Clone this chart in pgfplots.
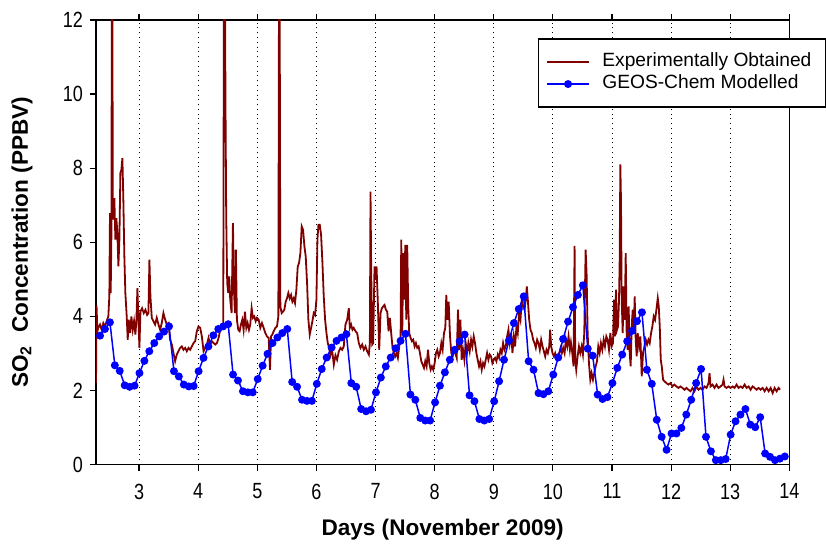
\documentclass[border=0pt]{standalone}
\usepackage{fontspec}
\setmainfont{Liberation Sans}
\newfontfamily\narrowfont[FakeStretch=0.82]{Liberation Sans}
\usepackage{pgfplots}
\usepackage{pgfplotstable}
\pgfplotsset{compat=1.18}
\definecolor{expred}{RGB}{128,0,0}
\definecolor{modblue}{RGB}{0,0,255}

\pgfplotstableread{
day val
2.272 2.20
2.280 4.30
2.295 3.60
2.310 3.69
2.339 3.78
2.367 3.64
2.395 3.82
2.424 3.73
2.452 3.87
2.480 4.00
2.497 4.54
2.508 6.79
2.520 4.63
2.532 6.20
2.540 13.0
2.548 13.0
2.556 6.90
2.565 6.61
2.582 7.19
2.599 6.07
2.616 6.65
2.633 6.25
2.650 5.35
2.667 6.07
2.684 7.87
2.701 7.96
2.718 8.27
2.734 7.15
2.751 5.62
2.768 4.63
2.791 4.00
2.808 3.37
2.825 3.91
2.848 3.55
2.870 4.00
2.893 3.64
2.915 3.87
2.938 3.51
2.955 3.91
2.972 4.76
2.989 3.91
3.006 3.15
3.023 4.13
3.051 4.22
3.079 4.09
3.107 4.18
3.136 4.04
3.158 4.09
3.175 5.53
3.192 4.54
3.215 3.96
3.243 3.87
3.271 3.78
3.299 3.96
3.328 3.78
3.356 3.64
3.384 3.82
3.412 4.09
3.441 3.91
3.469 3.78
3.497 3.82
3.525 3.37
3.554 3.24
3.582 3.01
3.610 2.79
3.638 2.97
3.667 3.06
3.695 3.15
3.723 3.19
3.751 3.10
3.780 3.15
3.808 3.06
3.836 3.15
3.864 3.10
3.893 3.19
3.921 3.28
3.949 3.33
3.977 3.60
4.006 3.73
4.034 3.69
4.062 3.46
4.091 3.06
4.119 3.15
4.147 3.24
4.175 3.42
4.203 3.24
4.232 3.33
4.260 3.28
4.288 3.24
4.316 3.28
4.345 3.42
4.373 3.64
4.401 3.73
4.424 3.78
4.435 13.0
4.452 13.0
4.463 9.48
4.474 6.70
4.491 4.90
4.508 4.63
4.525 5.08
4.542 4.45
4.565 4.09
4.588 6.52
4.605 4.72
4.622 4.09
4.638 5.80
4.655 3.91
4.678 3.64
4.701 3.60
4.723 3.78
4.746 3.91
4.768 3.64
4.791 4.13
4.814 3.69
4.836 3.82
4.859 3.64
4.881 3.78
4.904 4.22
4.927 3.96
4.949 4.00
4.972 3.87
4.994 3.96
5.023 3.91
5.051 3.69
5.079 3.82
5.107 3.69
5.136 3.55
5.164 3.46
5.192 3.42
5.215 2.56
5.232 3.46
5.254 3.51
5.277 3.60
5.305 3.69
5.333 3.73
5.356 4.00
5.367 13.0
5.378 13.0
5.390 4.27
5.412 4.09
5.435 4.13
5.458 4.18
5.480 4.40
5.503 4.49
5.525 4.63
5.548 4.49
5.571 4.58
5.593 4.40
5.616 4.49
5.638 4.36
5.661 4.72
5.684 5.35
5.706 5.44
5.729 5.71
5.751 6.43
5.774 6.34
5.797 5.89
5.819 5.62
5.842 4.90
5.864 3.91
5.887 3.51
5.910 3.69
5.932 3.87
5.955 4.09
5.977 4.04
6.000 4.45
6.017 6.07
6.034 6.47
6.057 6.47
6.079 6.20
6.102 5.44
6.124 4.54
6.147 3.91
6.170 3.55
6.192 3.28
6.215 3.15
6.237 2.95
6.265 3.10
6.294 2.70
6.322 2.95
6.350 2.83
6.378 3.05
6.407 3.15
6.435 3.10
6.463 3.19
6.491 3.78
6.520 3.91
6.548 4.22
6.565 3.69
6.587 3.78
6.610 3.64
6.632 3.69
6.661 3.60
6.689 3.55
6.717 3.28
6.745 3.15
6.774 3.24
6.802 3.10
6.830 3.19
6.858 3.06
6.887 2.97
6.904 3.28
6.915 7.37
6.926 5.35
6.943 3.24
6.960 3.28
6.983 5.35
7.000 4.99
7.017 5.35
7.039 4.36
7.062 3.10
7.085 4.09
7.107 4.22
7.130 4.27
7.152 4.31
7.175 4.18
7.198 4.13
7.220 3.60
7.243 3.96
7.265 3.55
7.288 3.15
7.311 3.01
7.333 2.92
7.356 3.01
7.378 2.88
7.401 3.19
7.424 3.46
7.435 6.07
7.452 3.55
7.469 5.71
7.486 4.45
7.503 5.93
7.520 3.91
7.536 5.93
7.553 4.27
7.570 3.55
7.593 3.42
7.616 3.33
7.638 3.37
7.661 3.19
7.683 3.28
7.706 3.15
7.729 3.19
7.751 3.01
7.774 2.79
7.796 2.70
7.819 2.61
7.841 2.79
7.864 2.65
7.887 3.10
7.909 2.74
7.932 2.56
7.954 2.65
7.977 2.56
8.000 2.74
8.022 3.01
8.045 3.10
8.068 2.92
8.090 3.01
8.113 3.28
8.135 3.10
8.158 3.55
8.180 3.69
8.197 4.58
8.214 3.91
8.237 4.40
8.260 3.46
8.282 3.01
8.305 2.92
8.327 3.10
8.350 3.01
8.373 2.88
8.395 4.18
8.412 3.10
8.435 3.91
8.457 2.83
8.480 3.10
8.503 2.83
8.525 3.28
8.548 3.01
8.570 3.28
8.593 3.06
8.616 3.37
8.638 3.19
8.661 3.46
8.683 3.28
8.706 3.01
8.728 2.83
8.751 2.65
8.774 2.79
8.796 2.56
8.819 2.74
8.842 2.65
8.864 2.83
8.887 3.01
8.909 2.83
8.932 2.97
8.954 2.92
8.977 2.74
9.000 2.83
9.022 2.88
9.045 2.79
9.068 2.97
9.090 2.88
9.113 3.10
9.135 3.01
9.158 3.28
9.181 3.10
9.203 3.19
9.226 3.46
9.248 3.64
9.271 3.28
9.294 3.55
9.316 3.01
9.339 3.46
9.361 3.19
9.384 3.73
9.406 3.55
9.429 4.09
9.452 3.91
9.474 4.45
9.497 4.27
9.520 4.18
9.542 4.45
9.559 4.81
9.576 4.45
9.599 3.91
9.621 3.64
9.644 3.55
9.666 3.37
9.689 3.28
9.711 3.15
9.734 3.37
9.757 3.28
9.779 3.10
9.802 3.37
9.825 3.19
9.847 3.06
9.870 2.92
9.892 3.10
9.915 3.01
9.938 3.19
9.954 3.64
9.971 3.19
9.994 3.01
10.017 2.92
10.039 3.01
10.062 2.88
10.085 2.97
10.107 3.01
10.130 3.15
10.152 3.01
10.175 3.15
10.198 3.01
10.220 3.37
10.243 3.19
10.265 3.46
10.288 3.10
10.305 3.30
10.328 3.01
10.350 2.65
10.367 5.90
10.378 2.83
10.395 2.56
10.418 2.92
10.441 3.19
10.463 3.01
10.486 3.19
10.508 2.97
10.531 3.55
10.554 5.80
10.570 5.17
10.588 3.55
10.610 2.74
10.633 2.29
10.655 2.47
10.678 2.29
10.700 2.47
10.723 2.65
10.746 2.79
10.768 3.19
10.791 3.01
10.813 3.28
10.836 3.10
10.859 3.37
10.881 3.19
10.904 3.46
10.926 3.37
10.949 3.10
10.972 3.55
10.994 3.19
11.017 3.28
11.034 4.45
11.051 3.46
11.068 4.72
11.085 3.64
11.102 3.73
11.119 4.45
11.130 5.53
11.141 8.10
11.152 7.15
11.164 4.45
11.181 3.55
11.198 4.81
11.215 3.91
11.232 5.71
11.248 3.55
11.265 3.10
11.282 4.27
11.299 3.01
11.316 2.65
11.333 3.73
11.350 4.18
11.367 3.55
11.384 4.54
11.401 3.37
11.418 2.92
11.435 3.55
11.458 3.19
11.480 3.46
11.503 2.38
11.525 3.01
11.548 3.19
11.571 3.37
11.593 3.24
11.616 3.37
11.638 3.28
11.661 3.55
11.683 3.73
11.706 4.00
11.729 3.91
11.751 4.18
11.774 4.49
11.791 4.27
11.808 3.73
11.825 2.83
11.842 2.65
11.864 2.29
11.887 2.25
11.921 2.20
11.955 2.16
11.989 2.20
12.023 2.11
12.056 2.16
12.090 2.11
12.124 2.07
12.158 2.11
12.192 2.07
12.226 2.02
12.260 2.07
12.294 2.02
12.328 1.98
12.362 2.07
12.395 1.98
12.429 2.11
12.463 2.02
12.497 2.07
12.531 2.02
12.565 2.11
12.599 2.07
12.633 2.20
12.650 2.47
12.667 2.11
12.700 2.16
12.734 2.07
12.768 2.16
12.802 2.07
12.836 2.11
12.870 2.16
12.887 2.29
12.904 2.11
12.938 2.07
12.972 2.11
13.006 2.07
13.040 2.11
13.073 2.07
13.107 2.16
13.141 2.07
13.175 2.11
13.209 2.07
13.243 2.16
13.277 2.07
13.311 2.11
13.345 2.02
13.378 2.11
13.412 2.07
13.446 2.02
13.480 2.07
13.514 2.02
13.548 2.07
13.582 1.98
13.616 2.07
13.650 1.98
13.684 2.07
13.718 1.93
13.751 2.07
13.785 1.98
13.819 2.07
13.842 2.02
}\exptable

\pgfplotstableread{
day val
2.340 3.48
2.423 3.66
2.507 3.84
2.590 2.68
2.673 2.53
2.757 2.14
2.840 2.10
2.923 2.13
3.007 2.47
3.090 2.80
3.173 3.06
3.257 3.28
3.340 3.46
3.423 3.59
3.507 3.73
3.590 2.52
3.673 2.38
3.757 2.16
3.840 2.11
3.923 2.12
4.007 2.52
4.090 2.88
4.173 3.19
4.257 3.49
4.340 3.66
4.423 3.73
4.507 3.79
4.590 2.43
4.673 2.27
4.757 1.98
4.840 1.95
4.923 1.95
5.007 2.31
5.090 2.67
5.173 2.99
5.257 3.28
5.340 3.43
5.423 3.55
5.507 3.66
5.590 2.23
5.673 2.10
5.757 1.75
5.840 1.72
5.923 1.72
6.007 2.18
6.090 2.58
6.173 2.89
6.257 3.16
6.340 3.34
6.423 3.43
6.507 3.52
6.590 2.20
6.673 2.10
6.757 1.50
6.840 1.44
6.923 1.48
7.007 1.95
7.090 2.35
7.173 2.65
7.257 2.89
7.340 3.14
7.423 3.34
7.507 3.53
7.590 1.89
7.673 1.75
7.757 1.26
7.840 1.19
7.923 1.19
8.007 1.68
8.090 2.13
8.173 2.49
8.257 2.83
8.340 3.10
8.423 3.33
8.507 3.51
8.590 1.87
8.673 1.71
8.757 1.23
8.840 1.19
8.923 1.23
9.007 1.71
9.090 2.25
9.173 2.83
9.257 3.35
9.340 3.82
9.423 4.20
9.507 4.54
9.590 2.79
9.673 2.56
9.757 1.93
9.840 1.90
9.923 1.98
10.007 2.43
10.090 2.89
10.173 3.39
10.257 3.86
10.340 4.25
10.423 4.58
10.507 4.84
10.590 3.13
10.673 2.94
10.757 1.89
10.840 1.77
10.923 1.82
11.007 2.20
11.090 2.61
11.173 2.97
11.257 3.33
11.340 3.61
11.423 3.87
11.507 4.11
11.590 2.56
11.673 2.18
11.757 1.21
11.840 0.75
11.923 0.40
12.007 0.84
12.090 0.84
12.173 0.99
12.257 1.35
12.340 1.75
12.423 2.20
12.507 2.58
12.590 0.75
12.673 0.36
12.757 0.12
12.840 0.12
12.923 0.15
13.007 0.81
13.090 1.17
13.173 1.35
13.257 1.50
13.340 1.08
13.423 1.01
13.507 1.28
13.590 0.30
13.673 0.21
13.757 0.12
13.840 0.16
13.923 0.22
}\modtable

\begin{document}
\begin{tikzpicture}
\begin{axis}[
  scale only axis,
  width=347pt, height=222.5pt,
  xmin=2.27, xmax=14, ymin=0, ymax=12,
  xtick={3,4,5,6,7,8,9,10,11,12,13,14},
  ytick={0,2,4,6,8,10,12},
  tick align=outside,
  xtick pos=both, ytick pos=left,
  major tick length=3pt,
  xmajorgrids,
  grid style={black, dotted, line width=0.5pt},
  axis line style={black, line width=0.8pt},
  tick style={black, line width=0.6pt},
  /pgf/number format/assume math mode=true,
  ticklabel style={font=\narrowfont\fontsize{11}{13}\selectfont},
  xticklabel style={yshift=-3pt},
  xlabel={\bfseries Days (November 2009)},
  ylabel={\bfseries SO\textsubscript{2}\ \ Concentration (PPBV)},
  label style={font=\fontsize{11.3}{13}\selectfont},
  xlabel style={at={(axis description cs:0.5,-0.146)}, anchor=center},
  ylabel style={at={(axis description cs:-0.1066,0.5)}, anchor=center},
  legend cell align=left,
  legend image code/.code={\draw[mark repeat=2,mark phase=2,#1] plot coordinates {(0pt,0pt) (10.5pt,0pt) (21pt,0pt)};},
  legend style={at={(1.052,0.957)}, anchor=north east, draw=black, line width=0.6pt,
    outer sep=0pt,
    font=\fontsize{9.6}{11}\selectfont, inner xsep=3.75pt, inner ysep=6pt,
    row sep=0pt, column sep=3pt,
    nodes={inner xsep=3.25pt, inner ysep=0.9pt, text height=7pt, text depth=2.2pt}},
]
\addplot[color=expred, line width=0.9pt] table[x=day,y=val] {\exptable};
\addlegendentry{Experimentally Obtained}
\addplot[color=modblue, line width=0.75pt, mark=*, mark size=1.6pt, mark options={fill=modblue, draw=modblue}] table[x=day,y=val] {\modtable};
\addlegendentry{GEOS-Chem Modelled}
\end{axis}
\path[use as bounding box] (-48pt,-37.5pt) rectangle (365pt,232.5pt);
\end{tikzpicture}
\end{document}
